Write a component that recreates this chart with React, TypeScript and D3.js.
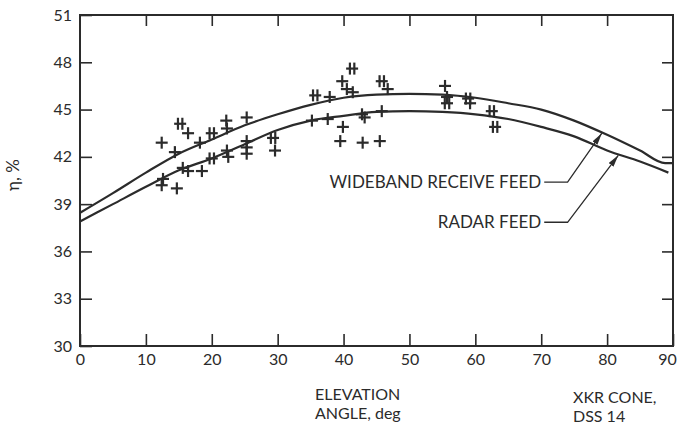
import { useEffect, useRef } from "react";
import * as d3 from "d3";

const width = 681;
const height = 427;

// axis ticks
const elevationTicks = [0, 10, 20, 30, 40, 50, 60, 70, 80, 90];
const efficiencyTicks = [30, 33, 36, 39, 42, 45, 48, 51];

// fitted curves
const widebandAngle = [0, 5, 10, 15, 20, 25, 30, 35, 40, 45, 50, 55, 60, 65, 70, 75, 80, 85, 88.8, 90];
const widebandEff = [38.45, 39.7, 41.0, 42.2, 43.1, 44.0, 44.7, 45.3, 45.75, 45.95, 46.0, 45.95, 45.75, 45.4, 45.0, 44.3, 43.4, 42.4, 41.6, 41.6];

const radarAngle = [0, 5, 10, 15, 20, 25, 30, 35, 40, 45, 50, 55, 60, 65, 70, 75, 80, 85, 89.3];
const radarEff = [37.9, 39.0, 40.1, 41.15, 41.9, 42.8, 43.7, 44.3, 44.6, 44.85, 44.9, 44.85, 44.7, 44.4, 43.9, 43.3, 42.4, 41.7, 41.0];

// measured points (double = "#"-like double cross)
const pointAngle = [12.4, 12.6, 12.4, 14.7, 14.4, 15.2, 16.4, 15.6, 16.4, 18.5, 18.2, 20.0, 20.0, 22.2, 22.3, 22.3, 22.5, 25.3, 25.3, 25.3, 25.3, 29.3, 29.6, 35.7, 37.9, 35.2, 37.6, 39.8, 41.3, 40.5, 41.4, 39.9, 39.5, 45.8, 46.7, 42.8, 43.2, 45.8, 42.9, 45.5, 55.4, 55.7, 55.7, 58.9, 59.2, 62.5, 63.0];
const pointEff = [42.9, 40.6, 40.2, 40.0, 42.3, 44.1, 43.5, 41.3, 41.1, 41.1, 42.9, 43.5, 41.9, 44.3, 43.8, 42.4, 42.0, 44.5, 43.0, 42.6, 42.2, 43.2, 42.4, 45.9, 45.8, 44.3, 44.4, 46.8, 47.6, 46.3, 46.1, 43.9, 43.0, 46.8, 46.3, 44.7, 44.5, 44.9, 42.9, 43.0, 46.5, 45.8, 45.4, 45.7, 45.4, 44.9, 43.9];
const pointDouble = [0, 0, 0, 0, 0, 1, 0, 0, 0, 0, 0, 1, 1, 0, 0, 0, 0, 0, 0, 0, 0, 1, 0, 1, 0, 0, 0, 0, 1, 0, 0, 0, 0, 1, 0, 0, 0, 0, 0, 0, 0, 0, 1, 1, 0, 1, 1];

// curve labels
const labelText = ["WIDEBAND RECEIVE FEED", "RADAR FEED"];
const labelAt = [[70, 40.4], [70, 37.85]];
const labelElbow = [[74, 40.4], [74, 37.85]];
const labelTip = [[79.2, 43.5], [81.7, 42.1]];

const ink = "#2b2b2b";
const font = "Lato, 'DejaVu Sans', sans-serif";

const App = (): JSX.Element => {
  const svgRef = useRef<SVGSVGElement | null>(null);

  useEffect(() => {
    if (!svgRef.current) return;
    const svg = d3.select(svgRef.current);
    svg.selectAll("*").remove();

    const margin = { top: 15, right: 8, bottom: 81, left: 80 };
    const innerW = width - margin.left - margin.right;
    const innerH = height - margin.top - margin.bottom;

    const x = d3.scaleLinear().domain([0, 90]).range([0, innerW]);
    const y = d3.scaleLinear().domain([30, 51]).range([innerH, 0]);

    svg
      .append("defs")
      .append("marker")
      .attr("id", "arrow")
      .attr("viewBox", "0 0 12 6")
      .attr("refX", 12)
      .attr("refY", 3)
      .attr("markerWidth", 12)
      .attr("markerHeight", 6)
      .attr("markerUnits", "userSpaceOnUse")
      .attr("orient", "auto")
      .append("path")
      .attr("d", "M0,0 L12,3 L0,6 Z")
      .attr("fill", ink);

    const g = svg.append("g").attr("transform", `translate(${margin.left},${margin.top})`);

    // frame
    g.append("rect")
      .attr("width", innerW)
      .attr("height", innerH)
      .attr("fill", "none")
      .attr("stroke", ink)
      .attr("stroke-width", 2);

    const styleAxis = (sel: d3.Selection<SVGGElement, unknown, null, undefined>) => {
      sel.select(".domain").remove();
      sel.selectAll(".tick line").attr("stroke", ink).attr("stroke-width", 1.6);
      sel.selectAll(".tick text").attr("fill", ink).attr("font-family", font).attr("font-size", 16);
    };

    g.append("g")
      .call(d3.axisLeft(y).tickValues(efficiencyTicks).tickSizeInner(-12).tickSizeOuter(0).tickPadding(8))
      .call(styleAxis);

    const bottom = g
      .append("g")
      .attr("transform", `translate(0,${innerH})`)
      .call(d3.axisBottom(x).tickValues(elevationTicks).tickSizeInner(-12).tickSizeOuter(0).tickPadding(8))
      .call(styleAxis);
    // last label sits against the page edge
    bottom
      .selectAll<SVGTextElement, number>(".tick text")
      .filter((d) => d === 90)
      .attr("dx", -6);

    g.append("g")
      .call(d3.axisTop(x).tickValues(elevationTicks.slice(1, -1)).tickSizeInner(-11).tickSizeOuter(0).tickFormat(() => ""))
      .call(styleAxis);

    g.append("g")
      .attr("transform", `translate(${innerW},0)`)
      .call(d3.axisRight(y).tickValues(efficiencyTicks.slice(1, -1)).tickSizeInner(-11).tickSizeOuter(0).tickFormat(() => ""))
      .call(styleAxis);

    const line = d3
      .line<[number, number]>()
      .x((d) => x(d[0]))
      .y((d) => y(d[1]))
      .curve(d3.curveMonotoneX);

    const curves = [
      widebandAngle.map((a, i) => [a, widebandEff[i]] as [number, number]),
      radarAngle.map((a, i) => [a, radarEff[i]] as [number, number]),
    ];

    g.selectAll("path.curve")
      .data(curves)
      .enter()
      .append("path")
      .attr("class", "curve")
      .attr("d", (d) => line(d))
      .attr("fill", "none")
      .attr("stroke", ink)
      .attr("stroke-width", 2.2);

    // data crosses
    const pts = pointAngle.map((a, i) => ({ a, e: pointEff[i], dbl: pointDouble[i] }));
    const arm = 6;
    const marks = g
      .selectAll("g.pt")
      .data(pts)
      .enter()
      .append("g")
      .attr("class", "pt")
      .attr("transform", (d) => `translate(${x(d.a)},${y(d.e)})`)
      .attr("stroke", ink)
      .attr("stroke-width", 2.2);
    marks.append("line").attr("x1", -arm).attr("x2", arm).attr("y1", 0).attr("y2", 0);
    marks
      .append("line")
      .attr("x1", (d) => (d.dbl ? -2.2 : 0))
      .attr("x2", (d) => (d.dbl ? -2.2 : 0))
      .attr("y1", -arm)
      .attr("y2", arm);
    marks
      .filter((d) => d.dbl === 1)
      .append("line")
      .attr("x1", 2.2)
      .attr("x2", 2.2)
      .attr("y1", -arm)
      .attr("y2", arm);

    // curve labels with leaders
    labelText.forEach((t, i) => {
      g.append("text")
        .attr("x", x(labelAt[i][0]))
        .attr("y", y(labelAt[i][1]))
        .attr("dy", "0.35em")
        .attr("text-anchor", "end")
        .attr("font-family", font)
        .attr("font-size", 17)
        .attr("fill", ink)
        .text(t);
      g.append("path")
        .attr(
          "d",
          `M${x(labelAt[i][0]) + 3},${y(labelAt[i][1])} L${x(labelElbow[i][0])},${y(labelElbow[i][1])} L${x(labelTip[i][0])},${y(labelTip[i][1])}`
        )
        .attr("fill", "none")
        .attr("stroke", ink)
        .attr("stroke-width", 1.3)
        .attr("marker-end", "url(#arrow)");
    });

    // axis titles
    svg
      .append("text")
      .attr("transform", "translate(19,175) rotate(-90)")
      .attr("text-anchor", "middle")
      .attr("font-family", font)
      .attr("font-size", 17)
      .attr("fill", ink)
      .text("η, %");

    const xTitle = svg
      .append("text")
      .attr("font-family", font)
      .attr("font-size", 16)
      .attr("fill", ink);
    xTitle.append("tspan").attr("x", 315).attr("y", 400).text("ELEVATION");
    xTitle.append("tspan").attr("x", 315).attr("y", 419).text("ANGLE, deg");

    const note = svg
      .append("text")
      .attr("font-family", font)
      .attr("font-size", 16)
      .attr("fill", ink);
    note.append("tspan").attr("x", 573).attr("y", 403).text("XKR CONE,");
    note.append("tspan").attr("x", 573).attr("y", 422).text("DSS 14");
  }, []);

  return (
    <svg
      ref={svgRef}
      width={width}
      height={height}
      style={{ position: "absolute", left: 0, top: 0, display: "block", background: "#fff" }}
    />
  );
};

export default App;
